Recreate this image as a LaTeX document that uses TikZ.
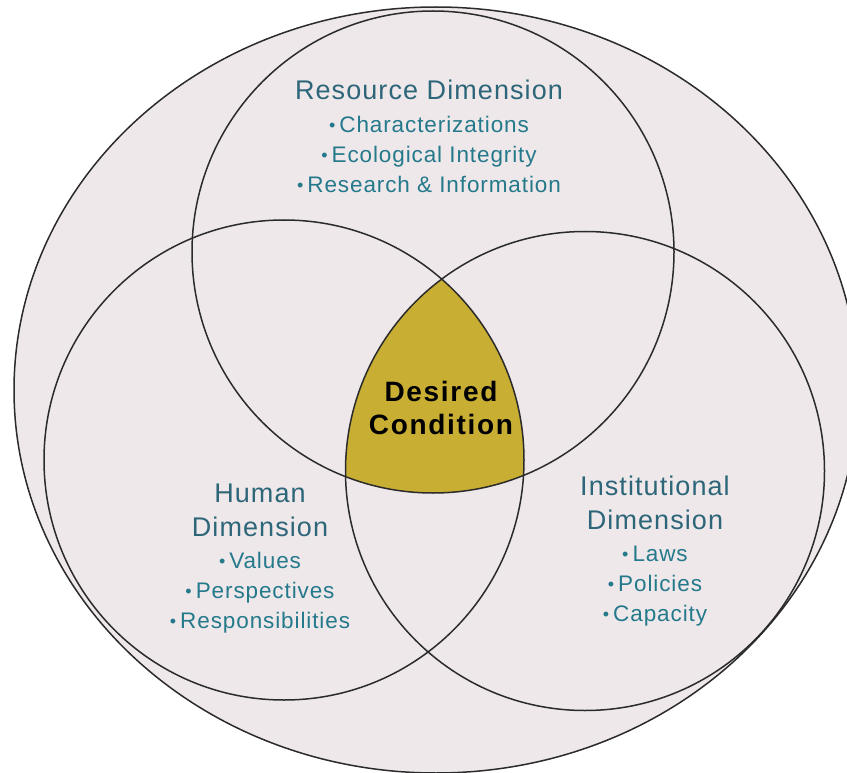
\documentclass[tikz,border=0pt]{standalone}
\usepackage{fontspec}
\setmainfont{Liberation Sans}
\newfontfamily\dimfont[LetterSpace=4]{Liberation Sans}
\newfontfamily\goalfont[LetterSpace=6]{Liberation Sans}
\usepackage{xcolor}
\usepackage{tikz}
\usetikzlibrary{positioning}

\definecolor{vennbg}{HTML}{EEE8EA}
\definecolor{venngold}{HTML}{C8AE33}
\definecolor{headteal}{HTML}{2D6679}
\definecolor{itemteal}{HTML}{24798B}
\definecolor{rimgray}{HTML}{2B2B2B}

\newcommand{\dimhead}[1]{{\color{headteal}\fontsize{27}{30}\selectfont #1}}
\newcommand{\dimitem}[1]{\raisebox{1pt}{\fontsize{18}{18}\selectfont\textbullet}\hspace{4pt}#1}

\begin{document}
\begin{tikzpicture}[x=1pt,y=-1pt,
    rim/.style={draw=rimgray, line width=1.5pt},
    dimtext/.style={align=center, inner sep=0pt, anchor=north, text=itemteal,
      font=\dimfont\fontsize{22.5}{30}\selectfont},
    goaltext/.style={align=center, inner sep=0pt, text=black,
      font=\goalfont\bfseries\fontsize{28}{33}\selectfont}]
        \useasboundingbox (0,0) rectangle (847,773);
        \clip (0,0) rectangle (847,773);

        % Outer field
        \filldraw[fill=vennbg, rim] (436,390) ellipse [x radius=422, y radius=383];

        % Overlap of all three dimensions
        \begin{scope}
          \clip (433,252) circle [radius=241];
          \clip (284,460) circle [radius=240];
          \fill[venngold] (585,471) circle [radius=239.5];
        \end{scope}

        % Dimension circles
        \draw[rim] (433,252) circle [radius=241];
        \draw[rim] (284,460) circle [radius=240];
        \draw[rim] (585,471) circle [radius=239.5];

        % Labels
        \node[dimtext] (resource) at (429,80) {\dimhead{Resource Dimension}\\[3pt]
          \dimitem{Characterizations}\\ \dimitem{Ecological Integrity}\\
          \dimitem{Research \& Information}};
        \node[dimtext] (human) at (260,484) {\dimhead{Human}\\[4pt] \dimhead{Dimension}\\[2pt]
          \dimitem{Values}\\ \dimitem{Perspectives}\\ \dimitem{Responsibilities}};
        \node[dimtext] (institutional) at (655,476) {\dimhead{Institutional}\\[4pt]
          \dimhead{Dimension}\\[2pt] \dimitem{Laws}\\ \dimitem{Policies}\\ \dimitem{Capacity}};
        \node[goaltext] (goal) at (441,408) {Desired\\Condition};
      \end{tikzpicture}
\end{document}
